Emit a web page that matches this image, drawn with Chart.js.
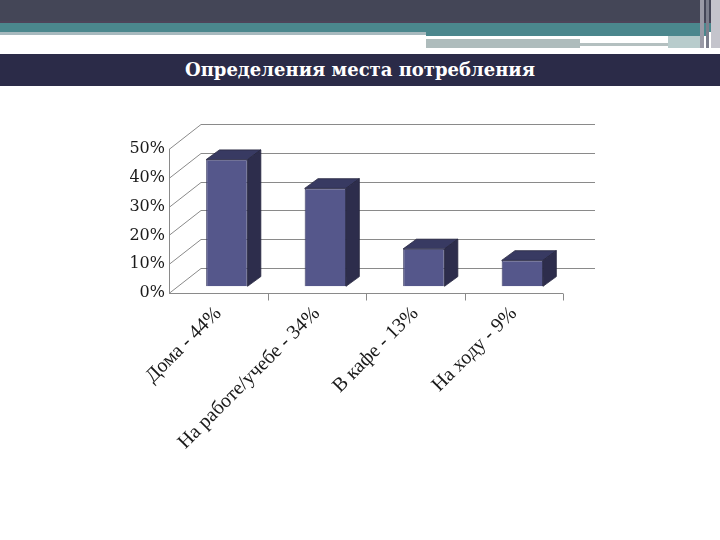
<!DOCTYPE html>
<html>
<head>
<meta charset="utf-8">
<script src="https://cdn.jsdelivr.net/npm/chart.js@4"></script>
<style>
  body { margin: 0; width: 720px; height: 540px; background: #fff; position: relative; overflow: hidden; }
  .band { position: absolute; }
  #title {
    position: absolute; left: 0; top: 54px; width: 720px; height: 32px;
    background: #2b2b48; color: #fff; text-align: center;
    font: bold 18px "DejaVu Serif", serif; line-height: 31px;
  }
  #wrap { position: absolute; left: 0; top: 90px; width: 720px; height: 450px; }
</style>
</head>
<body>
<div class="band" style="left:0;top:0;width:720px;height:21px;background:#444657"></div>
<div class="band" style="left:0;top:21px;width:720px;height:2px;background:#4d4459"></div>
<div class="band" style="left:0;top:23px;width:720px;height:9px;background:#4b878d"></div>
<div class="band" style="left:0;top:32px;width:426px;height:3px;background:#a7b9be"></div>
<div class="band" style="left:426px;top:32px;width:280px;height:4px;background:#4b878d"></div>
<div class="band" style="left:426px;top:39px;width:154px;height:9px;background:#aebcbc"></div>
<div class="band" style="left:580px;top:43px;width:88px;height:3px;background:#b4c0c0"></div>
<div class="band" style="left:668px;top:36px;width:36px;height:12px;background:#b8cccc"></div>
<div class="band" style="left:700px;top:0;width:4px;height:48px;background:#9a9aa6"></div>
<div class="band" style="left:706px;top:0;width:3px;height:48px;background:#7c7e8c"></div>
<div class="band" style="left:711px;top:0;width:9px;height:48px;background:#c4c4cc"></div>
<div id="title">Определения места потребления</div>
<div id="wrap"><canvas id="chart" width="720" height="450"></canvas></div>
<script>
const categories = ["Дома - 44%", "На работе/учебе - 34%", "В кафе - 13%", "На ходу - 9%"];
const shares = [44, 34, 13, 9];
const yMax = 50;
const yStep = 10;

// depth of the back wall and placement of the bars inside it
const wallDX = 32, wallDY = -25;
const barShiftX = 8.6, barShiftY = -6.7;
const barDX = 13.3, barDY = -9.7;

const frame3d = {
  id: "frame3d",
  beforeDatasetsDraw(chart) {
    const { ctx, chartArea: a, scales } = chart;
    const y = scales.y;
    ctx.save();
    ctx.strokeStyle = "#8a8a8a";
    ctx.lineWidth = 1;
    for (let v = 0; v <= yMax; v += yStep) {
      const py = Math.round(y.getPixelForValue(v)) + 0.5;
      ctx.beginPath();
      ctx.moveTo(a.left, py);
      ctx.lineTo(a.left + wallDX, py + wallDY);
      ctx.lineTo(a.right + wallDX, py + wallDY);
      ctx.stroke();
    }
    // front axes
    const y0 = Math.round(y.getPixelForValue(0)) + 0.5;
    ctx.beginPath();
    ctx.moveTo(a.left + 0.5, y0);
    ctx.lineTo(a.left + 0.5, y.getPixelForValue(yMax));
    ctx.moveTo(a.left, y0);
    ctx.lineTo(a.right, y0);
    const step = (a.right - a.left) / categories.length;
    for (let i = 1; i <= categories.length; i++) {
      const px = Math.round(a.left + i * step) + 0.5;
      ctx.moveTo(px, y0);
      ctx.lineTo(px, y0 + 7);
    }
    ctx.stroke();
    ctx.restore();

    ctx.save();
    ctx.translate(barShiftX, barShiftY);
  },
  afterDatasetsDraw(chart) {
    const { ctx } = chart;
    const meta = chart.getDatasetMeta(0);
    meta.data.forEach((bar) => {
      const p = bar.getProps(["x", "y", "base", "width"], true);
      const l = p.x - p.width / 2, r = p.x + p.width / 2;
      ctx.strokeStyle = "#26263f";
      ctx.lineWidth = 0.8;
      ctx.fillStyle = "#383a62";
      ctx.beginPath();
      ctx.moveTo(l, p.y);
      ctx.lineTo(r, p.y);
      ctx.lineTo(r + barDX, p.y + barDY);
      ctx.lineTo(l + barDX, p.y + barDY);
      ctx.closePath();
      ctx.fill();
      ctx.stroke();
      ctx.fillStyle = "#2d2d4c";
      ctx.beginPath();
      ctx.moveTo(r, p.y);
      ctx.lineTo(r + barDX, p.y + barDY);
      ctx.lineTo(r + barDX, p.base + barDY);
      ctx.lineTo(r, p.base);
      ctx.closePath();
      ctx.fill();
      ctx.stroke();
    });
    ctx.restore();
  },
};

new Chart(document.getElementById("chart"), {
  type: "bar",
  data: {
    labels: categories,
    datasets: [
      {
        data: shares,
        backgroundColor: "#55578b",
        borderColor: "#3a3b63",
        borderWidth: 1,
        categoryPercentage: 1,
        barPercentage: 0.42,
        clip: false,
      },
    ],
  },
  options: {
    responsive: false,
    animation: false,
    layout: { padding: { left: 0, top: 59, right: 157, bottom: 0 } },
    plugins: { legend: { display: false }, tooltip: { enabled: false } },
    scales: {
      x: {
        grid: { display: false, drawTicks: false },
        border: { display: false },
        ticks: {
          minRotation: 45,
          maxRotation: 45,
          padding: 9,
          color: "#1a1a1a",
          font: { family: "Liberation Serif", size: 20 },
        },
        afterFit(scale) { scale.height = 247; },
      },
      y: {
        min: 0,
        max: yMax,
        grid: { display: false, drawTicks: false },
        border: { display: false },
        ticks: {
          stepSize: yStep,
          padding: 4,
          color: "#1a1a1a",
          font: { family: "DejaVu Serif", size: 16 },
          callback: (v) => v + "%",
        },
        afterFit(scale) { scale.width = 169; },
      },
    },
  },
  plugins: [frame3d],
});
</script>
</body>
</html>
